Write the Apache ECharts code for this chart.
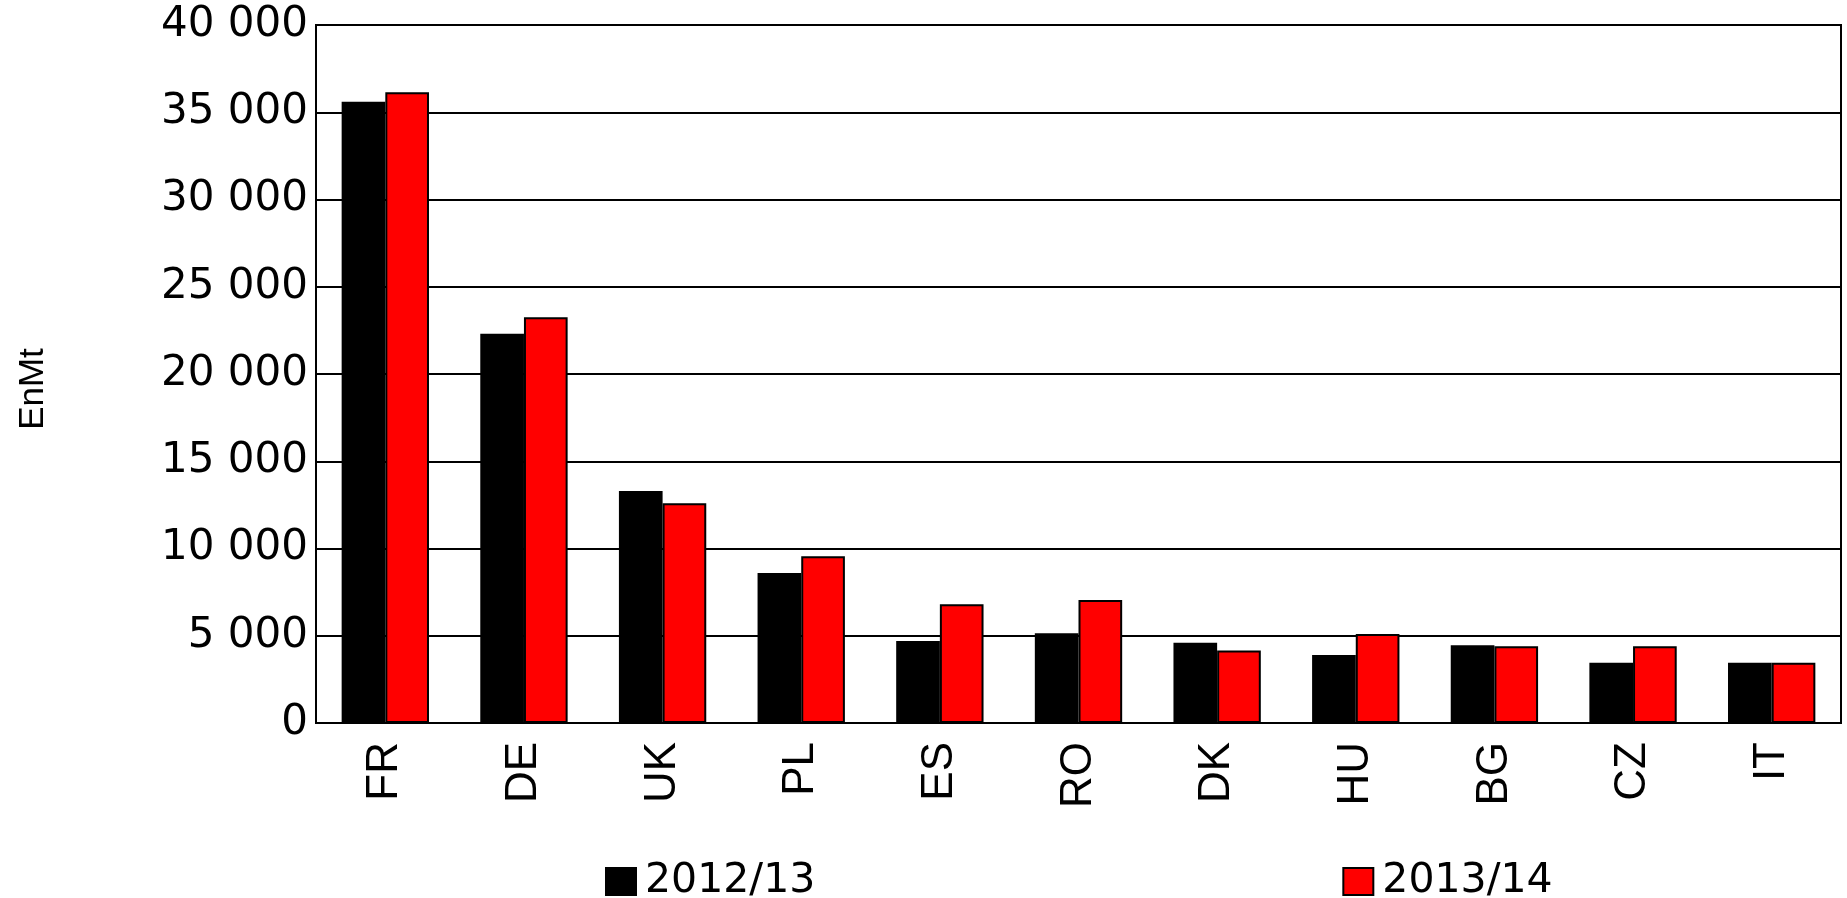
<!DOCTYPE html>
<html>
<head>
<meta charset="utf-8">
<script src="https://cdn.jsdelivr.net/npm/echarts@6/dist/echarts.min.js"></script>
<style>
  html, body { margin: 0; padding: 0; background: #fff; }
  #chart { width: 1847px; height: 898px; }
</style>
</head>
<body>
<div id="chart"></div>
<script>
const countries = ['FR', 'DE', 'UK', 'PL', 'ES', 'RO', 'DK', 'HU', 'BG', 'CZ', 'IT'];
const values1213 = [35600, 22300, 13300, 8600, 4700, 5150, 4600, 3900, 4450, 3450, 3450];
const values1314 = [36150, 23250, 12600, 9550, 6800, 7050, 4150, 5100, 4400, 4400, 3450];
const seriesNames = ['2012/13', '2013/14'];
const yTicks = { min: 0, max: 40000, step: 5000 };

const chart = echarts.init(document.getElementById('chart'));

// espace comme séparateur de milliers
const fmt = v => String(v).replace(/\B(?=(\d{3})+(?!\d))/g, ' ');

const option = {
  backgroundColor: '#fff',
  animation: false,
  grid: {
    left: 316, right: 6, top: 25, bottom: 175,
    show: true,
    borderColor: '#000',
    borderWidth: 2
  },
  legend: {
    left: 600,
    top: 856,
    itemGap: 527,
    itemWidth: 30,
    itemHeight: 27,
    icon: 'rect',
    textStyle: { fontFamily: 'DejaVu Sans', fontSize: 41, color: '#000', padding: [0, 0, 0, 4] },
    data: seriesNames
  },
  xAxis: {
    type: 'category',
    data: countries,
    axisLine: { lineStyle: { color: '#000', width: 2 } },
    axisTick: { show: false },
    axisLabel: {
      rotate: 90,
      margin: 19,
      color: '#000',
      fontFamily: 'Liberation Sans',
      fontSize: 44
    }
  },
  yAxis: {
    type: 'value',
    min: yTicks.min,
    max: yTicks.max,
    interval: yTicks.step,
    name: 'EnMt',
    nameLocation: 'middle',
    nameRotate: 90,
    nameGap: 265,
    nameTextStyle: { fontFamily: 'Liberation Sans', fontSize: 35, color: '#000', padding: [0, 30, 0, 0] },
    axisLine: { show: true, lineStyle: { color: '#000', width: 2 } },
    axisTick: { show: false },
    axisLabel: {
      margin: 8,
      color: '#000',
      fontFamily: 'DejaVu Sans',
      fontSize: 42,
      formatter: fmt
    },
    splitLine: { show: true, lineStyle: { color: '#000', width: 2 } }
  },
  series: [
    {
      name: seriesNames[0],
      type: 'bar',
      barGap: '0%',
      barCategoryGap: '37%',
      itemStyle: { color: '#000', borderColor: '#000', borderWidth: 2 },
      data: values1213
    },
    {
      name: seriesNames[1],
      type: 'bar',
      barGap: '0%',
      barCategoryGap: '37%',
      itemStyle: { color: '#ff0000', borderColor: '#000', borderWidth: 2 },
      data: values1314
    }
  ]
};

chart.setOption(option);
</script>
</body>
</html>
